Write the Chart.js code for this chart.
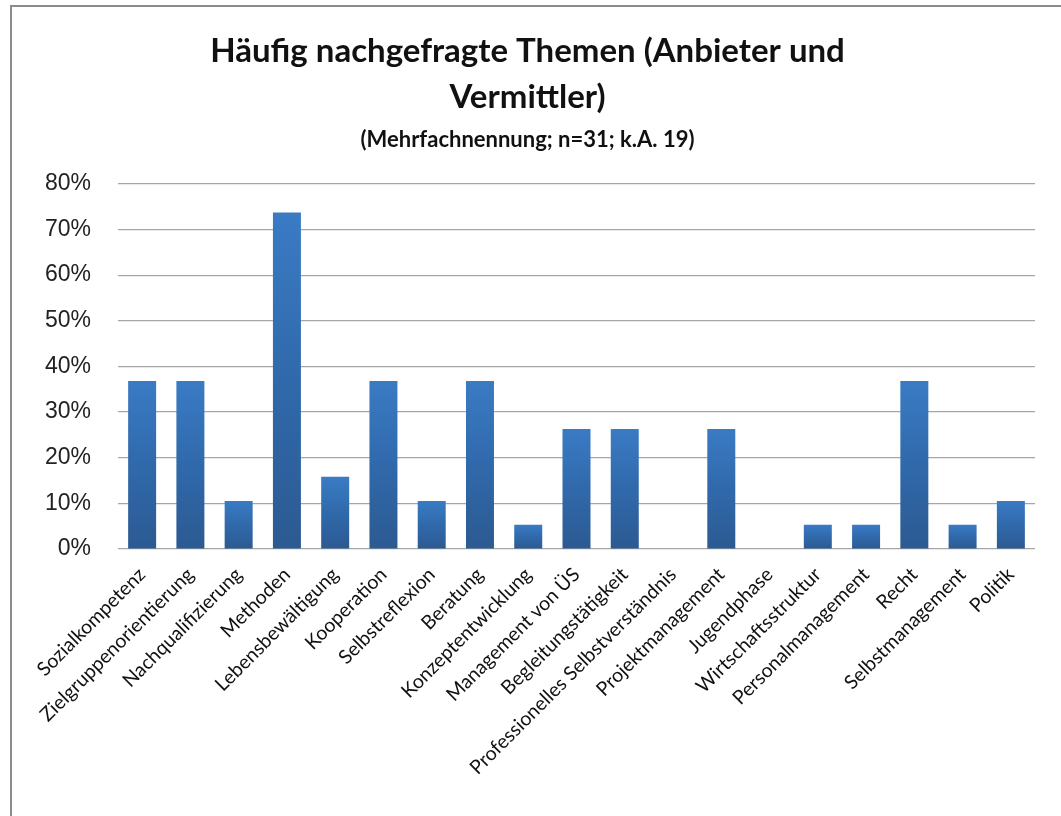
<!DOCTYPE html>
<html>
<head>
<meta charset="utf-8">
<script src="https://cdn.jsdelivr.net/npm/chart.js@4/dist/chart.umd.min.js"></script>
<style>
  html, body { margin: 0; padding: 0; background: #fff; }
  #wrap { position: relative; width: 1061px; height: 816px; overflow: hidden; }
  #frame {
    position: absolute; left: 10px; top: 5px; right: -10px; bottom: -10px;
    border-left: 2px solid #8c8c8c; border-top: 2px solid #8c8c8c;
  }
  canvas { position: absolute; left: 0; top: 0; }
</style>
</head>
<body>
<div id="wrap">
  <div id="frame"></div>
  <canvas id="chart" width="1061" height="816"></canvas>
</div>
<script>
// ---- data ----
const themen = [
  "Sozialkompetenz",
  "Zielgruppenorientierung",
  "Nachqualifizierung",
  "Methoden",
  "Lebensbewältigung",
  "Kooperation",
  "Selbstreflexion",
  "Beratung",
  "Konzeptentwicklung",
  "Management von ÜS",
  "Begleitungstätigkeit",
  "Professionelles Selbstverständnis",
  "Projektmanagement",
  "Jugendphase",
  "Wirtschaftsstruktur",
  "Personalmanagement",
  "Recht",
  "Selbstmanagement",
  "Politik",
];
const anteile = [
  36.8, 36.8, 10.5, 73.7, 15.8, 36.8, 10.5, 36.8, 5.3, 26.3,
  26.3, 0, 26.3, 0, 5.3, 5.3, 36.8, 5.3, 10.5,
];
const yTicks = [0, 10, 20, 30, 40, 50, 60, 70, 80];

const titelZeilen = ["Häufig nachgefragte Themen (Anbieter und", "Vermittler)"];
const untertitel = "(Mehrfachnennung; n=31; k.A. 19)";

// gradient per bar, light at top, darker at the base
function barFill(ctx) {
  const chart = ctx.chart;
  const area = chart.chartArea;
  if (!area) return "#3470b4";
  const yScale = chart.scales.y;
  const top = yScale.getPixelForValue(ctx.raw || 0);
  const bottom = yScale.getPixelForValue(0);
  if (bottom - top < 1) return "#3470b4";
  const g = chart.ctx.createLinearGradient(0, top, 0, bottom);
  g.addColorStop(0, "#3a7bc4");
  g.addColorStop(0.5, "#3069ab");
  g.addColorStop(1, "#2c5a92");
  return g;
}

const ctx = document.getElementById("chart");
new Chart(ctx, {
  type: "bar",
  data: {
    labels: themen,
    datasets: [
      {
        data: anteile,
        backgroundColor: barFill,
        borderWidth: 0,
        barPercentage: 0.58,
        categoryPercentage: 1,
      },
    ],
  },
  options: {
    responsive: false,
    animation: false,
    devicePixelRatio: 1,
    layout: { padding: { left: 20, right: 26, top: 10, bottom: 0 } },
    plugins: {
      legend: { display: false },
      tooltip: { enabled: false },
      title: {
        display: true,
        text: titelZeilen,
        color: "#111",
        font: { family: "Lato, sans-serif", size: 33, weight: "bold", lineHeight: 1.4 },
        padding: { top: 18, bottom: 0 },
      },
      subtitle: {
        display: true,
        text: untertitel,
        color: "#111",
        font: { family: "Lato, sans-serif", size: 22, weight: "bold", lineHeight: 1.2 },
        padding: { top: 6, bottom: 31 },
      },
    },
    scales: {
      x: {
        grid: { display: false, drawTicks: false },
        border: { display: false },
        ticks: {
          color: "#111",
          font: { family: "Lato, sans-serif", size: 19.5 },
          maxRotation: 45,
          minRotation: 45,
          autoSkip: false,
          padding: 14,
        },
        afterFit: (axis) => { axis.height = 267; },
      },
      y: {
        min: 0,
        max: 80,
        afterBuildTicks: (axis) => {
          axis.ticks = yTicks.map((v) => ({ value: v }));
        },
        grid: { color: "#a6a6a6", lineWidth: 1.2, drawTicks: false },
        border: { display: false },
        ticks: {
          color: "#222",
          font: { family: "'Liberation Sans', Arial, sans-serif", size: 23 },
          padding: 27,
          callback: (v) => v + "%",
        },
        afterFit: (axis) => { axis.width = 98; },
      },
    },
  },
});
</script>
</body>
</html>
